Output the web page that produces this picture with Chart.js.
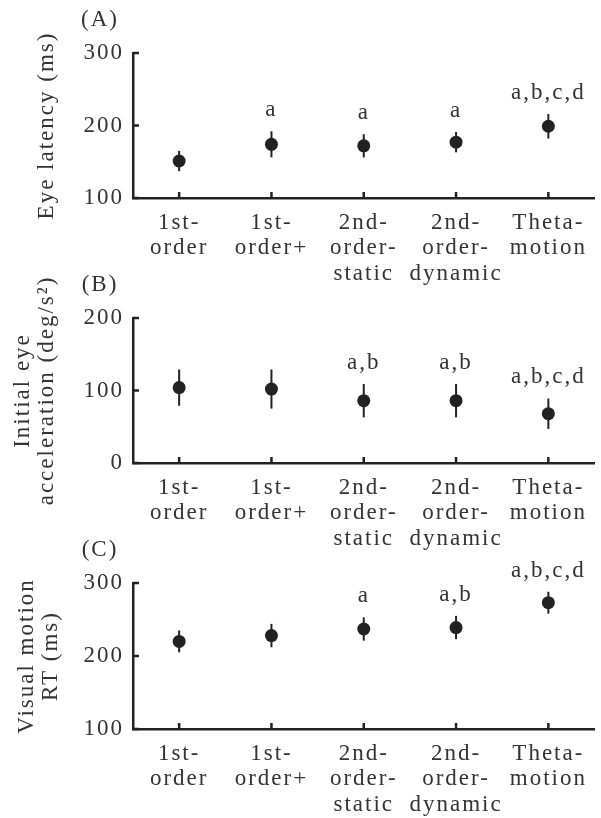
<!DOCTYPE html>
<html>
<head>
<meta charset="utf-8">
<script src="https://cdn.jsdelivr.net/npm/chart.js@4/dist/chart.umd.min.js"></script>
<style>
  body { margin: 0; background: #fff; width: 601px; height: 818px; position: relative; overflow: hidden; }
  .panel { position: absolute; left: 0; width: 601px; }
</style>
</head>
<body>
<div class="panel" style="top:0;height:295px"><canvas id="chartA"></canvas></div>
<div class="panel" style="top:270px;height:295px"><canvas id="chartB"></canvas></div>
<div class="panel" style="top:540px;height:278px"><canvas id="chartC"></canvas></div>
<script>
// categories (multi-line tick labels)
const categories = [
    ['1st-', 'order'],
    ['1st-', 'order+'],
    ['2nd-', 'order-', 'static'],
    ['2nd-', 'order-', 'dynamic'],
    ['Theta-', 'motion']
];

// (A) eye latency
const latencyMean = [151, 174, 172, 177, 199];
const latencyErr = [14, 18, 16, 14, 17];
const latencySig = ['', 'a', 'a', 'a', 'a,b,c,d'];
const latencyTicks = [100, 200, 300];

// (B) initial eye acceleration
const accelMean = [104, 102, 86, 86, 68];
const accelErr = [25, 27, 23, 23, 21];
const accelSig = ['', '', 'a,b', 'a,b', 'a,b,c,d'];
const accelTicks = [0, 100, 200];

// (C) visual motion RT
const rtMean = [220, 228, 237, 239, 273];
const rtErr = [15, 16, 16, 16, 15];
const rtSig = ['', '', 'a', 'a,b', 'a,b,c,d'];
const rtTicks = [100, 200, 300];

const FONT = 'Liberation Serif';
const SIZE = 23;
const SPACING = '2px';
const INK = '#222';
const TEXT = '#333';

function makePanel(id, tag, title, means, errs, sigs, ticks, layout) {
    const extras = {
        id: 'extras' + id,
        beforeLayout(chart) { chart.ctx.letterSpacing = SPACING; },
        beforeDraw(chart) { chart.ctx.letterSpacing = SPACING; },
        beforeDatasetsDraw(chart) {
            const ctx = chart.ctx;
            const x = chart.scales.x, y = chart.scales.y;
            ctx.save();
            ctx.strokeStyle = INK;
            ctx.lineWidth = 2;
            means.forEach((m, i) => {
                const px = x.getPixelForValue(i);
                ctx.beginPath();
                ctx.moveTo(px, y.getPixelForValue(m - errs[i]));
                ctx.lineTo(px, y.getPixelForValue(m + errs[i]));
                ctx.stroke();
            });
            ctx.restore();
        },
        afterDraw(chart) {
            const ctx = chart.ctx;
            const x = chart.scales.x, y = chart.scales.y;
            const area = chart.chartArea;
            ctx.save();
            // inward tick marks
            ctx.strokeStyle = INK;
            ctx.lineWidth = 2.5;
            ticks.forEach(t => {
                const py = y.getPixelForValue(t);
                ctx.beginPath();
                ctx.moveTo(area.left, py);
                ctx.lineTo(area.left + 6, py);
                ctx.stroke();
            });
            categories.forEach((c, i) => {
                const px = x.getPixelForTick(i);
                ctx.beginPath();
                ctx.moveTo(px, area.bottom);
                ctx.lineTo(px, area.bottom - 6);
                ctx.stroke();
            });
            // significance letters
            ctx.fillStyle = TEXT;
            ctx.font = SIZE + 'px "' + FONT + '"';
            ctx.textAlign = 'center';
            ctx.textBaseline = 'alphabetic';
            sigs.forEach((s, i) => {
                if (!s) return;
                const px = x.getPixelForValue(i);
                const py = y.getPixelForValue(means[i] + errs[i]) - 15;
                ctx.fillText(s, px, py);
            });
            // panel tag
            ctx.textBaseline = 'middle';
            ctx.fillText(tag, 100, layout.tagY);
            ctx.restore();
        }
    };

    return new Chart(document.getElementById(id), {
        type: 'line',
        data: {
            labels: categories,
            datasets: [{
                data: means,
                showLine: false,
                pointRadius: 6.5,
                pointHoverRadius: 6.5,
                pointBackgroundColor: INK,
                pointBorderColor: INK,
                pointBorderWidth: 0
            }]
        },
        options: {
            responsive: true,
            maintainAspectRatio: false,
            animation: false,
            events: [],
            layout: { padding: { top: layout.top, right: 1, left: 0, bottom: 0 } },
            plugins: { legend: { display: false }, tooltip: { enabled: false } },
            scales: {
                x: {
                    type: 'category',
                    offset: true,
                    grid: { display: false },
                    border: { display: true, color: INK, width: 2.5 },
                    ticks: {
                        color: TEXT,
                        font: { family: FONT, size: SIZE, lineHeight: 25.5 / SIZE },
                        padding: 4,
                        maxRotation: 0,
                        autoSkip: false
                    },
                    afterFit(scale) { scale.height = layout.xHeight; }
                },
                y: {
                    min: ticks[0],
                    max: ticks[ticks.length - 1],
                    afterBuildTicks(scale) { scale.ticks = ticks.map(v => ({ value: v })); },
                    grid: { display: false },
                    border: { display: true, color: INK, width: 2.5 },
                    ticks: {
                        color: TEXT,
                        font: { family: FONT, size: SIZE },
                        padding: 1
                    },
                    title: {
                        display: true,
                        text: title,
                        color: TEXT,
                        font: { family: FONT, size: SIZE, lineHeight: 24 / SIZE },
                        padding: { top: layout.titlePad, bottom: 0 }
                    },
                    afterFit(scale) { scale.width = 133; }
                }
            }
        },
        plugins: [extras]
    });
}

makePanel('chartA', '(A)', 'Eye latency (ms)', latencyMean, latencyErr, latencySig, latencyTicks,
    { top: 53, xHeight: 97, titlePad: 35, tagY: 20 });
makePanel('chartB', '(B)', ['Initial eye', 'acceleration (deg/s\u00b2)'], accelMean, accelErr, accelSig, accelTicks,
    { top: 48, xHeight: 102, titlePad: 11, tagY: 15 });
makePanel('chartC', '(C)', ['Visual motion', 'RT (ms)'], rtMean, rtErr, rtSig, rtTicks,
    { top: 43, xHeight: 89, titlePad: 15, tagY: 10 });
</script>
</body>
</html>
